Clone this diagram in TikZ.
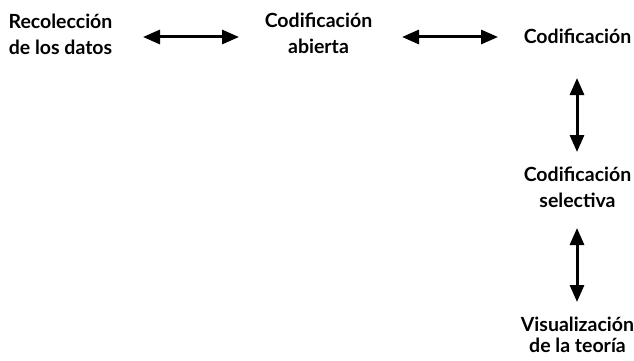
\documentclass[tikz,border=0pt]{standalone}
\usepackage{fontspec}
\setmainfont{Lato}
\usetikzlibrary{arrows.meta}
\begin{document}
\begin{tikzpicture}[x=1pt,y=-1pt,
  lbl/.style={font=\fontsize{19.5}{26}\selectfont\bfseries, align=center, inner sep=0pt, anchor=base},
  dbl/.style={line width=3pt, {Triangle[length=17pt,width=14pt]}-{Triangle[length=17pt,width=14pt]}}]
\useasboundingbox (0,0) rectangle (634,361);
\node[lbl] (rec) at (60.5,55) {Recolección\\de los datos};
\node[lbl] (abi) at (318.5,54) {Codificación\\abierta};
\node[lbl] (cod) at (577.5,44) {Codificación};
\node[lbl] (sel) at (577.5,207) {Codificación\\selectiva};
\node[lbl, font=\fontsize{19.5}{21}\selectfont\bfseries] (vis) at (577.5,352) {Visualización\\de la teoría};
\coordinate (a1) at (143,37); \coordinate (a2) at (239,37);
\coordinate (b1) at (402,37); \coordinate (b2) at (498,37);
\coordinate (c1) at (577,78); \coordinate (c2) at (577,152);
\coordinate (d1) at (577,228); \coordinate (d2) at (577,302);
\draw[dbl] (a1) -- (a2);
\draw[dbl] (b1) -- (b2);
\draw[dbl] (c1) -- (c2);
\draw[dbl] (d1) -- (d2);
\end{tikzpicture}
\end{document}
